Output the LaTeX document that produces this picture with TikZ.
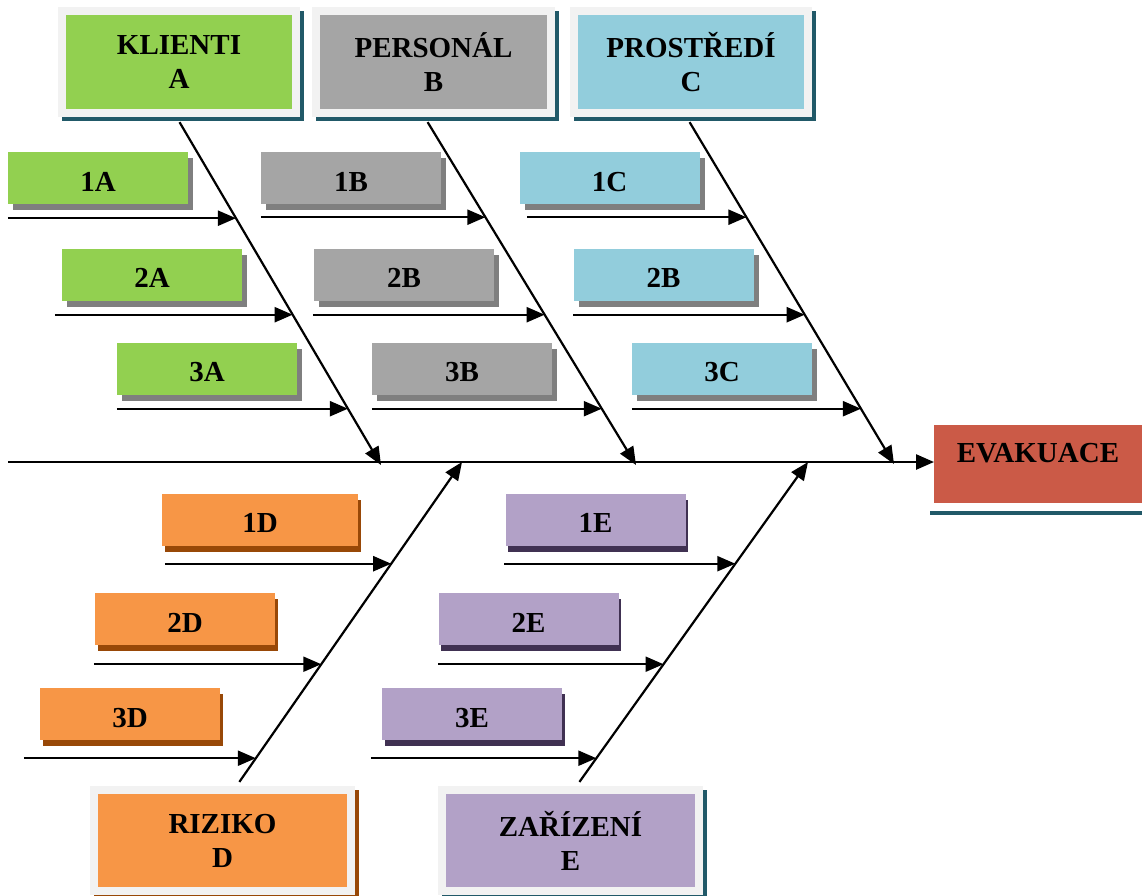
\documentclass[tikz,border=0pt]{standalone}
\usepackage{fontspec}
\setmainfont{Liberation Serif}
\usetikzlibrary{arrows.meta,shadows,intersections,calc}
\usepackage{xcolor}
\definecolor{klgreen}{HTML}{92D050}
\definecolor{pegray}{HTML}{A5A5A5}
\definecolor{prblue}{HTML}{92CDDC}
\definecolor{riorange}{HTML}{F79646}
\definecolor{zapurple}{HTML}{B2A1C7}
\definecolor{evred}{HTML}{CB5A47}
\definecolor{framegray}{HTML}{F2F2F2}
\definecolor{tealshadow}{HTML}{215968}
\definecolor{brownshadow}{HTML}{984807}
\definecolor{violetshadow}{HTML}{403152}
\definecolor{grayshadow}{HTML}{7F7F7F}

\begin{document}
\begin{tikzpicture}[x=1pt, y=-1pt, >={Triangle[length=18pt,width=15pt]},
  every node/.style={font=\bfseries\fontsize{29}{34}\selectfont},
  mshadow/.style={drop shadow={shadow xshift=3.5pt, shadow yshift=-4pt, fill=#1, draw=#1, line width=8pt, opacity=1}},
  sshadow/.style 2 args={drop shadow={shadow xshift=#2, shadow yshift=-6pt, fill=#1, opacity=1}}]
\tikzstyle{mainbox}=[rectangle, draw=framegray, line width=8pt, inner sep=0pt, align=center, minimum width=234pt, minimum height=102pt]
\tikzstyle{subbox}=[rectangle, inner sep=0pt, minimum width=180pt, minimum height=52pt, text height=26pt, text depth=0pt]
\tikzstyle{link}=[->, line width=2.2pt]

\useasboundingbox (0,0) rectangle (1142,895);

% Categories
\node[mainbox, fill=klgreen, mshadow=tealshadow] (klienti) at (179,62) {KLIENTI\\A};
\node[mainbox, fill=pegray, mshadow=tealshadow, minimum width=235pt] (personal) at (433.5,62) {PERSONÁL\\B};
\node[mainbox, fill=prblue, mshadow=tealshadow] (prostredi) at (691,62) {PROSTŘEDÍ\\C};
\node[mainbox, fill=riorange, mshadow=brownshadow, minimum width=257pt, minimum height=101pt] (riziko) at (222.5,840.5) {RIZIKO\\D};
\node[mainbox, fill=zapurple, mshadow=tealshadow, minimum width=257pt, minimum height=101pt] (zarizeni) at (570.5,840.5) {ZAŘÍZENÍ\\E};
\node[mainbox, draw=white, fill=evred, mshadow=tealshadow, minimum width=216pt, minimum height=86pt, text height=20pt, text depth=24pt] (evak) at (1038,464) {EVAKUACE};

% Causes
\node[subbox, fill=klgreen, sshadow={grayshadow}{5pt}] (a1) at (98,178) {1A};
\node[subbox, fill=klgreen, sshadow={grayshadow}{5pt}] (a2) at (152,274.5) {2A};
\node[subbox, fill=klgreen, sshadow={grayshadow}{5pt}] (a3) at (207,368.5) {3A};
\node[subbox, fill=pegray, sshadow={grayshadow}{5pt}] (b1) at (351,178) {1B};
\node[subbox, fill=pegray, sshadow={grayshadow}{5pt}] (b2) at (404,274.5) {2B};
\node[subbox, fill=pegray, sshadow={grayshadow}{5pt}] (b3) at (462,368.5) {3B};
\node[subbox, fill=prblue, sshadow={grayshadow}{5pt}] (c1) at (609.5,178) {1C};
\node[subbox, fill=prblue, sshadow={grayshadow}{5pt}] (c2) at (663.5,274.5) {2B};
\node[subbox, fill=prblue, sshadow={grayshadow}{5pt}] (c3) at (722,368.5) {3C};
\node[subbox, fill=riorange, sshadow={brownshadow}{2.5pt}, minimum width=196pt] (d1) at (260,519.5) {1D};
\node[subbox, fill=riorange, sshadow={brownshadow}{2.5pt}] (d2) at (185,619) {2D};
\node[subbox, fill=riorange, sshadow={brownshadow}{2.5pt}] (d3) at (130,714) {3D};
\node[subbox, fill=zapurple, sshadow={violetshadow}{2.5pt}] (e1) at (595.5,519.5) {1E};
\node[subbox, fill=zapurple, sshadow={violetshadow}{2.5pt}] (e2) at (528.5,619) {2E};
\node[subbox, fill=zapurple, sshadow={violetshadow}{2.5pt}] (e3) at (472,714) {3E};

% Spine
\coordinate (tail) at (8,462);
\coordinate (jA) at (381,465);
\coordinate (jB) at (636,465);
\coordinate (jC) at (894,464);
\coordinate (jD) at (462,462);
\coordinate (jE) at (808,462);
\draw[->, line width=2.5pt, shorten >=-8pt] (tail) -- (tail -| evak.west);

% Bones
\draw[link, shorten <=6pt, name path=dA] ([xshift=-2.5pt]klienti.south) -- (jA);
\draw[link, shorten <=6pt, name path=dB] ([xshift=-9pt]personal.south) -- (jB);
\draw[link, shorten <=6pt, name path=dC] ([xshift=-4.5pt]prostredi.south) -- (jC);
\draw[link, shorten <=5pt, name path=dD] ([xshift=14pt]riziko.north) -- (jD);
\draw[link, shorten <=5pt, name path=dE] ([xshift=6pt]zarizeni.north) -- (jE);

% Cause arrows
\foreach \b/\d/\dx/\dy in {a1/A/0/14, a2/A/-7/14, a3/A/0/14, b1/B/0/13, b2/B/-1/14, b3/B/0/14,
    c1/C/8/13, c2/C/0/14, c3/C/0/14, d1/D/3/18, d2/D/-1/19, d3/D/-16/18, e1/E/-1/18, e2/E/0/19, e3/E/-11/18}{
  \path[name path=hline] ([xshift=\dx pt, yshift=-\dy pt]\b.south west) -- ++(600,0);
  \draw[link, name intersections={of=hline and d\d}] ([xshift=\dx pt, yshift=-\dy pt]\b.south west) -- (intersection-1);
}
\end{tikzpicture}
\end{document}
